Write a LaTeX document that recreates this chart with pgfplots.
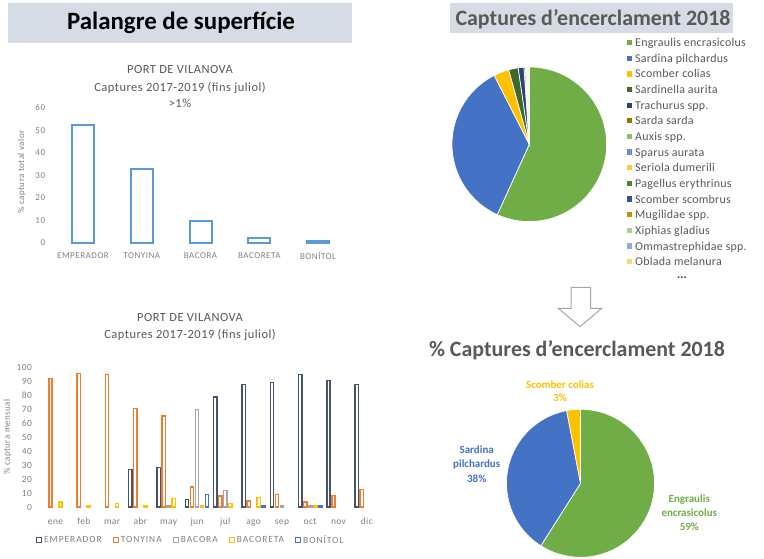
\documentclass[border=0pt]{standalone}
\usepackage{pgfplots}
\pgfplotsset{compat=1.18}
\usepackage{pgfplotstable}
\usepackage{fontspec}
\setmainfont{Carlito}

\definecolor{bandc}{HTML}{D6DCE5}
\definecolor{barblue}{HTML}{5B9BD5}
\definecolor{emp}{HTML}{44546A}
\definecolor{ton}{HTML}{ED7D31}
\definecolor{bac}{HTML}{A5A5A5}
\definecolor{bacr}{HTML}{FFC000}
\definecolor{bon}{HTML}{4472C4}
\definecolor{titlegray}{HTML}{595959}
\definecolor{tickgray}{HTML}{808080}
\definecolor{pie0}{HTML}{70AD47}
\definecolor{pie1}{HTML}{4472C4}
\definecolor{pie2}{HTML}{FFC000}
\definecolor{pie3}{HTML}{43682B}
\definecolor{pie4}{HTML}{294476}
\definecolor{pie5}{HTML}{997300}
\definecolor{pie6}{HTML}{8CC168}
\definecolor{pie7}{HTML}{698ED0}
\definecolor{pie8}{HTML}{FFCD33}
\definecolor{pie9}{HTML}{548235}
\definecolor{pie10}{HTML}{2F5597}
\definecolor{pie11}{HTML}{BF9000}
\definecolor{pie12}{HTML}{A9D18E}
\definecolor{pie13}{HTML}{8FAADC}
\definecolor{pie14}{HTML}{FFD966}

\newcommand\tickfont{\fontsize{9}{10.8}\selectfont\addfontfeature{LetterSpace=6}}
\newcommand\legfont{\fontsize{9.5}{11}\selectfont\addfontfeature{LetterSpace=10}}
\newcommand\titfont{\fontsize{12.5}{15}\selectfont\addfontfeature{LetterSpace=4}}
\newcommand\ylabfont{\fontsize{9}{10}\selectfont\addfontfeature{LetterSpace=5}}

\pgfplotstableread{
pct
56.8
35.7
3.2
2.0
1.2
0.3
0.2
0.15
0.12
0.1
0.08
0.06
0.04
0.03
0.02
}\pieonetab

\pgfplotstableread{
pct
59
38
3
}\pietwotab

\pgfplotsset{
  mybar/.style={ybar, bar width=3.3bp, line width=1.4bp, fill=white, bar shift=#1,
    legend image code/.code={\draw[##1, bar shift=0pt, line width=1.2bp, fill=white] (0bp,-2.4bp) rectangle (4.8bp,2.4bp);}},
  pieaxis/.style={hide axis, scale only axis, clip=false, xmin=-1, xmax=1, ymin=-1, ymax=1}
}

\begin{document}
\begin{tikzpicture}[x=1bp,y=1bp]
\fill[white] (0,0) rectangle (764,559);
\useasboundingbox (0,0) rectangle (764,559);

% ---------- Title bands ----------
\fill[bandc] (8,556) rectangle (352,516);
\node[font=\fontsize{25}{30}\selectfont\bfseries, text=black] at (181,536) {Palangre de superfície};
\fill[bandc] (450,556) rectangle (733,526);
\node[font=\fontsize{22}{26}\selectfont\bfseries, text=titlegray] at (593,540) {Captures d’encerclament 2018};
\node[font=\fontsize{22}{26}\selectfont\bfseries, text=titlegray] at (577,209) {\% Captures d’encerclament 2018};

% ---------- Chart A ----------
\node[font=\titfont, text=titlegray] at (180,489) {PORT DE VILANOVA};
\node[font=\titfont, text=titlegray] at (180,471) {Captures 2017-2019 (fins juliol)};
\node[font=\titfont, text=titlegray] at (180,456) {>1\%};
\node[font=\ylabfont, text=tickgray, rotate=90] at (21.7,387) {\% captura total valor};
\begin{axis}[at={(53.6bp,316bp)}, anchor=south west, scale only axis,
  width=293.8bp, height=135bp, xmin=-0.5, xmax=4.5, ymin=0, ymax=60,
  ytick={0,10,...,60}, xtick={0,...,4},
  xticklabels={EMPERADOR,TONYINA,BACORA,BACORETA,BONÍTOL},
  axis line style={draw=none}, major tick length=0pt, tick style={draw=none},
  /pgf/number format/assume math mode=true,
  ticklabel style={font=\tickfont, text=tickgray},
  xticklabel style={yshift=-6bp}, yticklabel style={xshift=-5bp},
  clip=false]
\addplot[ybar, bar width=22bp, draw=barblue, fill=white, line width=2bp]
  coordinates {(0,52.4) (1,32.9) (2,9.8) (3,2) (4,1)};
\end{axis}

% ---------- Chart B ----------
\node[font=\titfont, text=titlegray] at (190,241) {PORT DE VILANOVA};
\node[font=\titfont, text=titlegray] at (190,224) {Captures 2017-2019 (fins juliol)};
\node[font=\ylabfont, text=tickgray, rotate=90] at (7.5,122) {\% captura mensual};
\begin{axis}[at={(41.35bp,52bp)}, anchor=south west, scale only axis,
  width=339.6bp, height=140bp, xmin=-0.5, xmax=11.5, ymin=0, ymax=100,
  ytick={0,10,...,100}, xtick={0,...,11},
  xticklabels={ene,feb,mar,abr,may,jun,jul,ago,sep,oct,nov,dic},
  axis line style={draw=none}, major tick length=0pt, tick style={draw=none},
  /pgf/number format/assume math mode=true,
  ticklabel style={font=\fontsize{9.5}{11}\selectfont\addfontfeature{LetterSpace=4}, text=tickgray},
  xticklabel style={yshift=-7bp, text height=7bp, text depth=2bp}, yticklabel style={xshift=-6bp},
  legend style={draw=none, fill=none, at={(0.44,-0.236)}, anchor=center,
    legend columns=5, font=\legfont, text=tickgray,
    /tikz/every even column/.append style={column sep=9bp}},
  clip=false]
\addplot[mybar=-10bp, draw=emp] coordinates {(3,26.9) (4,28.1) (5,5.2) (6,78.6) (7,87.6) (8,88.8) (9,94.8) (10,90.5) (11,87.4)};
\addlegendentry{EMPERADOR}
\addplot[mybar=-5bp, draw=ton] coordinates {(0,91.7) (1,95.2) (2,94.8) (3,70.2) (4,65) (5,14.3) (6,7.9) (7,4.3) (8,8.8) (9,3.6) (10,8.3) (11,12.4)};
\addlegendentry{TONYINA}
\addplot[mybar=0bp, draw=bac] coordinates {(4,0.7) (5,69.8) (6,11.9) (8,1.2) (9,1.2)};
\addlegendentry{BACORA}
\addplot[mybar=5bp, draw=bacr] coordinates {(0,3.6) (1,1.2) (2,2.4) (3,1.2) (4,6) (5,1.2) (6,2.4) (7,6.7) (9,1.2)};
\addlegendentry{BACORETA}
\addplot[mybar=10bp, draw=bon] coordinates {(5,8.8) (7,1.2) (9,1.2)};
\addlegendentry{BONÍTOL}
\end{axis}

% ---------- Pie 1 ----------
\begin{axis}[pieaxis, at={(529.3bp,414.7bp)}, anchor=center, width=154.6bp, height=154.6bp]
\pgfplotsextra{%
  \xdef\curang{90}%
  \foreach \i in {0,...,14}{%
    \pgfplotstablegetelem{\i}{pct}\of\pieonetab
    \pgfmathsetmacro\endang{\curang-3.6*\pgfplotsretval}%
    \fill[fill=pie\i, draw=white, line width=0.7bp] (axis cs:0,0) -- ++(\curang:77.3bp)
      arc[start angle=\curang, end angle=\endang, radius=77.3bp] -- cycle;
    \xdef\curang{\endang}%
  }%
}
\end{axis}

% legend of pie 1
\foreach \name [count=\k from 0] in {Engraulis encrasicolus, Sardina pilchardus, Scomber colias, Sardinella aurita, Trachurus spp., Sarda sarda, Auxis spp., Sparus aurata, Seriola dumerili, Pagellus erythrinus, Scomber scombrus, Mugilidae spp., Xiphias gladius, Ommastrephidae spp., Oblada melanura}{
  \fill[pie\k] (626.7,{516.3-15.64*\k-2.6}) rectangle ++(5.3,5.3);
  \node[anchor=base west, inner sep=0pt, font=\fontsize{12}{14}\selectfont\addfontfeature{LetterSpace=2}, text=titlegray] at (635,{516.3-15.64*\k-4}) {\name};
}
\node[font=\fontsize{12}{14}\selectfont\bfseries, text=black!80] at (682,281) {...};

% ---------- Arrow ----------
\draw[black!35, fill=white, line width=1bp] (571,271.7) -- (590.7,271.7) -- (590.7,250.7) -- (601.7,250.7) -- (580,232.3) -- (558.3,250.7) -- (571,250.7) -- cycle;

% ---------- Pie 2 ----------
\begin{axis}[pieaxis, at={(580.5bp,75.7bp)}, anchor=center, width=148bp, height=148bp]
\pgfplotsextra{%
  \xdef\curang{90}%
  \foreach \i in {0,...,2}{%
    \pgfplotstablegetelem{\i}{pct}\of\pietwotab
    \pgfmathsetmacro\endang{\curang-3.6*\pgfplotsretval}%
    \fill[fill=pie\i, draw=white, line width=0.7bp] (axis cs:0,0) -- ++(\curang:74bp)
      arc[start angle=\curang, end angle=\endang, radius=74bp] -- cycle;
    \xdef\curang{\endang}%
  }%
}
\end{axis}
\node[align=center, font=\fontsize{11}{13.5}\selectfont\bfseries, text=pie2] at (560,168) {Scomber colias\\3\%};
\node[align=center, font=\fontsize{11}{14.5}\selectfont\bfseries, text=pie1] at (476.7,95) {Sardina\\pilchardus\\38\%};
\node[align=center, font=\fontsize{11}{14.2}\selectfont\bfseries, text=pie0] at (689.3,46) {Engraulis\\encrasicolus\\59\%};
\end{tikzpicture}
\end{document}
